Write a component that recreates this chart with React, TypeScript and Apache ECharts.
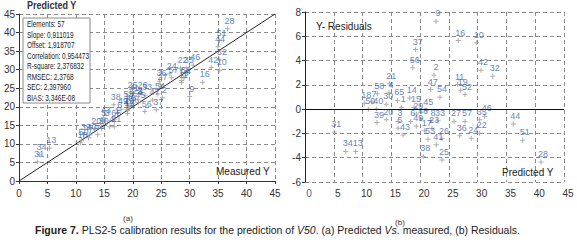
import React, { useEffect, useRef } from "react";
import * as echarts from "echarts";

const ids = ["9","16","10","37","56","42","32","2","21","11","47","19","52","54","58","4","18","7","30","65","14","1","15","45","40","29","39","20","3","5","6","48","49","43","17","23","53","8","33","27","57","35","46","22","36","24","26","41","25","38","44","51","28","31","34","13","50"];
const measured = [30.0,32.28,35.29,24.14,22.11,33.78,35.31,25.2,16.75,28.55,23.45,28.6,29.0,24.42,13.82,15.95,10.79,12.22,14.53,16.76,19.1,16.87,19.08,20.96,12.41,18.93,11.4,13.24,15.15,14.59,17.35,19.33,17.94,14.91,19.03,20.49,18.9,20.94,22.16,24.88,26.79,29.47,30.62,28.37,24.68,26.5,21.37,19.87,19.62,16.66,34.97,35.25,36.65,3.21,3.59,5.33,11.0];
const predicted = [22.76,26.63,29.83,19.23,18.71,30.58,32.61,22.41,14.65,26.53,21.84,27.05,27.8,23.45,12.56,14.59,10.3,11.64,14.12,16.04,18.19,16.73,18.94,21.07,12.39,19.34,12.51,14.12,16.16,16.16,18.36,20.15,19.34,17.03,20.8,22.06,21.37,21.89,23.11,25.89,27.8,30.35,31.22,30.35,26.88,28.89,23.8,22.81,23.8,20.55,36.19,37.82,41.0,5.09,7.07,8.81,11.0];
const statsLines = ["Elements: 57","Slope: 0,911019","Offset: 1,918707","Correlation: 0,954473","R-square: 2,376832","RMSEC: 2,3768","SEC: 2,397960","BIAS: 3,346E-08"];
const diagonal = [[0,0],[45,45]];

const FONT = "Liberation Sans";
const BLUE = "#3a64a8";
const PLUS = "path://M2,0H3V5H2ZM0,2H5V3H0Z";

export default function App() {
  const ref = useRef<HTMLDivElement>(null);
  useEffect(() => {
    if (!ref.current) return;
    const chart = echarts.init(ref.current, null, { renderer: "svg" });
    const pvm = ids.map((id, i) => ({ name: id, value: [measured[i], predicted[i]] }));
    const res = ids.map((id, i) => ({ name: id, value: [predicted[i], +(measured[i] - predicted[i]).toFixed(2)] }));
    const grid = { type: [4, 3], color: "#8a8a8a", width: 1 };
    const lbl = { show: true, position: "top", distance: 1, offset: [2, 0], formatter: "{b}", color: BLUE, fontSize: 9, fontFamily: FONT };
    chart.setOption({
      animation: false,
      textStyle: { fontFamily: FONT },
      grid: [
        { left: 19, top: 14, width: 256, height: 167 },
        { left: 305, top: 12, width: 259, height: 170 },
      ],
      xAxis: [
        { type: "value", gridIndex: 0, min: 0, max: 45, interval: 5,
          axisLine: { show: true, lineStyle: { color: "#333" } },
          axisTick: { show: true, length: 3, lineStyle: { color: "#333" } },
          axisLabel: { color: "#333", fontSize: 10, margin: 7, fontFamily: FONT },
          splitLine: { show: true, lineStyle: grid } },
        { type: "value", gridIndex: 1, min: 0, max: 45, interval: 5,
          axisLine: { show: false }, axisTick: { show: false },
          axisLabel: { color: "#333", fontSize: 10, margin: 6, padding: [0, 0, 0, 8], fontFamily: FONT,
            formatter: (v: number) => (v === 0 ? "{b|0}" : String(v)),
            rich: { b: { color: BLUE, fontSize: 10, fontFamily: FONT } } },
          splitLine: { show: true, lineStyle: grid } },
      ],
      yAxis: [
        { type: "value", gridIndex: 0, min: 0, max: 45, interval: 5,
          axisLine: { show: true, lineStyle: { color: "#333" } },
          axisTick: { show: true, length: 3, lineStyle: { color: "#333" } },
          axisLabel: { color: "#333", fontSize: 10, margin: 4, fontFamily: FONT },
          splitLine: { show: true, lineStyle: grid } },
        { type: "value", gridIndex: 1, min: -6, max: 8, interval: 2,
          axisLine: { show: true, lineStyle: { color: "#222" } },
          axisTick: { show: true, length: 3, lineStyle: { color: "#333" } },
          axisLabel: { color: "#333", fontSize: 10, margin: 4, fontFamily: FONT },
          splitLine: { show: true, lineStyle: grid } },
      ],
      series: [
        { type: "line", xAxisIndex: 0, yAxisIndex: 0, data: diagonal, symbol: "none",
          lineStyle: { color: "#222", width: 1 }, silent: true, z: 1 },
        { type: "scatter", xAxisIndex: 0, yAxisIndex: 0, data: pvm, symbol: PLUS, symbolSize: 5,
          itemStyle: { color: "#9a9a9a" }, label: lbl, z: 3 },
        { type: "scatter", xAxisIndex: 1, yAxisIndex: 1, data: res, symbol: PLUS, symbolSize: 5,
          itemStyle: { color: "#9a9a9a" }, label: lbl, z: 3,
          markLine: { silent: true, symbol: ["none", "none"], label: { show: false },
            lineStyle: { color: "#111", type: "solid", width: 1 }, data: [{ yAxis: 0 }] } },
      ],
      graphic: [
        { type: "rect", z: 50, shape: { x: 23, y: 18, width: 67, height: 85 },
          style: { fill: "#fff", stroke: "#8a8a8a", lineWidth: 1 } },
        ...statsLines.map((t, i) => ({ type: "text", z: 51, x: 27, y: 24.5 + i * 10.5, scaleX: 0.76,
          style: { text: t, fontSize: 8.5, fontFamily: FONT, fill: "#222", verticalAlign: "middle" } })),
        { type: "text", z: 51, x: 27, y: 5, scaleX: 0.9, style: { text: "Predicted Y", fontSize: 10, fontWeight: "bold", fontFamily: FONT, fill: "#333", verticalAlign: "middle" } },
        { type: "text", z: 51, x: 216, y: 171, style: { text: "Measured Y", fontSize: 10, fontFamily: FONT, fill: "#222", verticalAlign: "middle" } },
        { type: "text", z: 51, x: 316, y: 26, style: { text: "Y- Residuals", fontSize: 10, fontFamily: FONT, fill: "#222", verticalAlign: "middle" } },
        { type: "text", z: 51, x: 502, y: 172, style: { text: "Predicted Y", fontSize: 10, fontFamily: FONT, fill: "#222", verticalAlign: "middle" } },
        { type: "text", x: 128, y: 218, style: { text: "(a)", fontSize: 8, fontFamily: FONT, fill: "#333", align: "center", verticalAlign: "middle" } },
        { type: "text", x: 400, y: 222, style: { text: "(b)", fontSize: 8, fontFamily: FONT, fill: "#333", align: "center", verticalAlign: "middle" } },
        { type: "text", x: 35, y: 230, style: {
          text: "{b|Figure 7.} PLS2-5 calibration results for the prediction of {i|V50}. (a) Predicted {i|Vs}. measured, (b) Residuals.",
          fontSize: 10.5, fontFamily: FONT, fill: "#222", verticalAlign: "middle",
          rich: { b: { fontWeight: "bold", fontSize: 10.5, fontFamily: FONT, fill: "#222" }, i: { fontStyle: "italic", fontSize: 10.5, fontFamily: FONT, fill: "#222" } } } },
      ],
    });
    return () => chart.dispose();
  }, []);
  return <div ref={ref} style={{ position: "absolute", left: 0, top: 0, width: 577, height: 248 }} />;
}
